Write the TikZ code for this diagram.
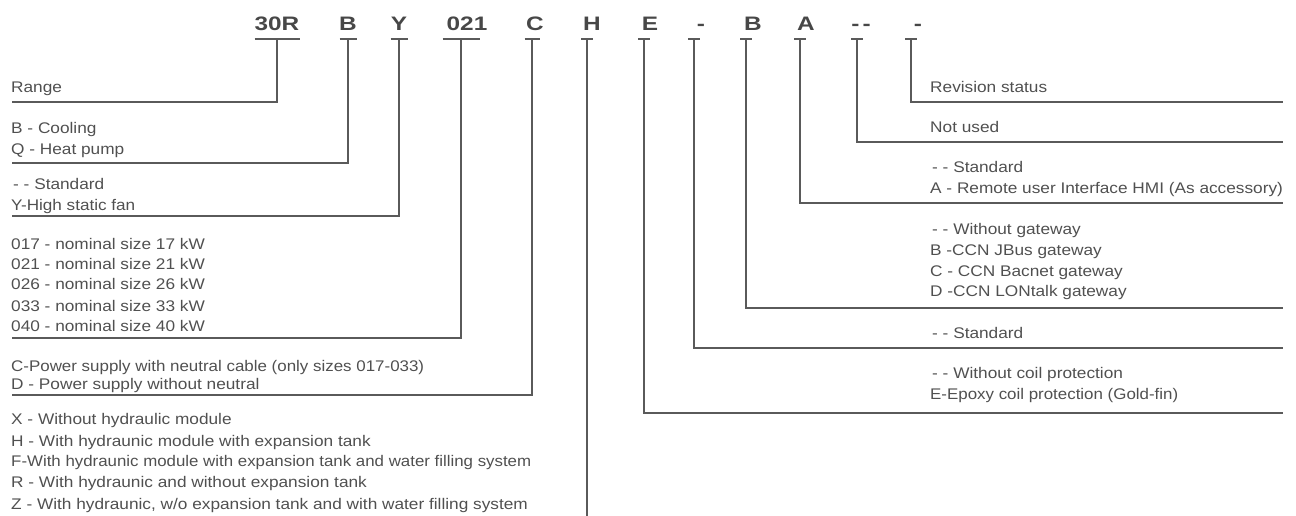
\documentclass[tikz,border=0pt]{standalone}
\usepackage{fontspec}
\usepackage{graphicx}
\setmainfont{Liberation Sans}[FakeStretch=1.12]
\newfontfamily\condfont{Liberation Sans}
\newfontfamily\hdrfont{Liberation Sans}[FakeStretch=1.25]
\definecolor{txt}{HTML}{505050}
\definecolor{hdc}{HTML}{474747}
\definecolor{lnc}{HTML}{5A5A5A}
\newcommand{\fitw}[2]{\resizebox{#1}{\height}{\condfont #2}}
\tikzset{
  lbl/.style={anchor=base west, inner sep=0pt, text=txt, font=\fontsize{15.4}{18}\selectfont},
  hdr/.style={anchor=base, inner sep=0pt, text=hdc, font=\hdrfont\bfseries\fontsize{19.5}{22}\selectfont},
  ln/.style={draw=lnc, line width=1.1pt}
}
\begin{document}
\begin{tikzpicture}[x=1pt, y=-1pt]
\useasboundingbox (0,0) rectangle (1296,516);
% header codes
\node[hdr] (h30)  at (277,31) {30R};
\node[hdr] (hB)   at (348,31) {B};
\node[hdr] (hY)   at (399,31) {Y};
\node[hdr] (h021) at (467,31) {021};
\node[hdr] (hC)   at (535,31) {C};
\node[hdr] (hH)   at (592,31) {H};
\node[hdr] (hE)   at (650,31) {E};
\node[hdr] (hD1)  at (701,31) {-};
\node[hdr] (hB2)  at (753,31) {B};
\node[hdr] (hA)   at (806,31) {A};
\node[hdr] (hDD)  at (861,31) {-\,-};
\node[hdr] (hD2)  at (918,31) {-};
% bar coordinates
\coordinate (t30) at (277,39);
\coordinate (tB) at (348,39);
\coordinate (tY) at (399,39);
\coordinate (t021) at (461,39);
\coordinate (tC) at (532,39);
\coordinate (tH) at (587,39);
\coordinate (tE) at (644,39);
\coordinate (tD1) at (694,39);
\coordinate (tB2) at (746,39);
\coordinate (tA) at (800,39);
\coordinate (tDD) at (857,39);
\coordinate (tD2) at (911,39);
% line ends
\coordinate (e30) at (12,102);
\coordinate (eB) at (12,163);
\coordinate (eY) at (12,216);
\coordinate (e021) at (12,338);
\coordinate (eC) at (12,395);
\coordinate (eH) at (587,516);
\coordinate (eE) at (1283,413);
\coordinate (eD1) at (1283,348);
\coordinate (eB2) at (1283,308);
\coordinate (eA) at (1283,203);
\coordinate (eDD) at (1283,142);
\coordinate (eD2) at (1283,102);
% bars
\draw[ln] ([xshift=-22.5pt]t30) -- ([xshift=22.5pt]t30);
\draw[ln] ([xshift=-8.5pt]tB) -- ([xshift=8.5pt]tB);
\draw[ln] ([xshift=-8.5pt]tY) -- ([xshift=8.5pt]tY);
\draw[ln] ([xshift=-18.5pt]t021) -- ([xshift=18.5pt]t021);
\draw[ln] ([xshift=-7.5pt]tC) -- ([xshift=7.5pt]tC);
\foreach \c in {tH,tE,tD1,tB2,tA,tDD,tD2}
  \draw[ln] ([xshift=-6pt]\c) -- ([xshift=6pt]\c);
% connectors
\draw[ln] (t30) |- (e30);
\draw[ln] (tB) |- (eB);
\draw[ln] (tY) |- (eY);
\draw[ln] (t021) |- (e021);
\draw[ln] (tC) |- (eC);
\draw[ln] (tH) -- (eH);
\draw[ln] (tE) |- (eE);
\draw[ln] (tD1) |- (eD1);
\draw[ln] (tB2) |- (eB2);
\draw[ln] (tA) |- (eA);
\draw[ln] (tDD) |- (eDD);
\draw[ln] (tD2) |- (eD2);
% left labels
\node[lbl] (l1) at (11,93) {Range};
\node[lbl] (l2) at (11,133.5) {B - Cooling};
\node[lbl] (l3) at (11,154.5) {Q - Heat pump};
\node[lbl] (l4) at (13,189.5) {- - Standard};
\node[lbl] (l5) at (11,210.5) {\fitw{124pt}{Y-High static fan}};
\node[lbl] (l6) at (11,249.2) {017 - nominal size 17 kW};
\node[lbl] (l7) at (11,269.3) {021 - nominal size 21 kW};
\node[lbl] (l8) at (11,289.5) {026 - nominal size 26 kW};
\node[lbl] (l9) at (11,311) {033 - nominal size 33 kW};
\node[lbl] (l10) at (11,331.5) {040 - nominal size 40 kW};
\node[lbl] (l11) at (11,371) {\fitw{413pt}{C-Power supply with neutral cable (only sizes 017-033)}};
\node[lbl] (l12) at (11,389.5) {D - Power supply without neutral};
\node[lbl] (l13) at (11,424.5) {X - Without hydraulic module};
\node[lbl] (l14) at (11,446.2) {H - With hydraunic module with expansion tank};
\node[lbl] (l15) at (11,466.5) {\fitw{520pt}{F-With hydraunic module with expansion tank and water filling system}};
\node[lbl] (l16) at (11,487.5) {R - With hydraunic and without expansion tank};
\node[lbl] (l17) at (11,509.5) {Z - With hydraunic, w/o expansion tank and with water filling system};
% right labels
\node[lbl] (r1) at (930,93) {Revision status};
\node[lbl] (r2) at (930,133) {Not used};
\node[lbl] (r3) at (932,172.5) {- - Standard};
\node[lbl] (r4) at (930,193.5) {A - Remote user Interface HMI (As accessory)};
\node[lbl] (r5) at (932,234.5) {- - Without gateway};
\node[lbl] (r6) at (930,255.5) {B -CCN JBus gateway};
\node[lbl] (r7) at (930,276) {C - CCN Bacnet gateway};
\node[lbl] (r8) at (930,296) {D -CCN LONtalk gateway};
\node[lbl] (r9) at (932,338) {- - Standard};
\node[lbl] (r10) at (932,378) {- - Without coil protection};
\node[lbl] (r11) at (930,399.5) {\fitw{248pt}{E-Epoxy coil protection (Gold-fin)}};
\end{tikzpicture}
\end{document}
